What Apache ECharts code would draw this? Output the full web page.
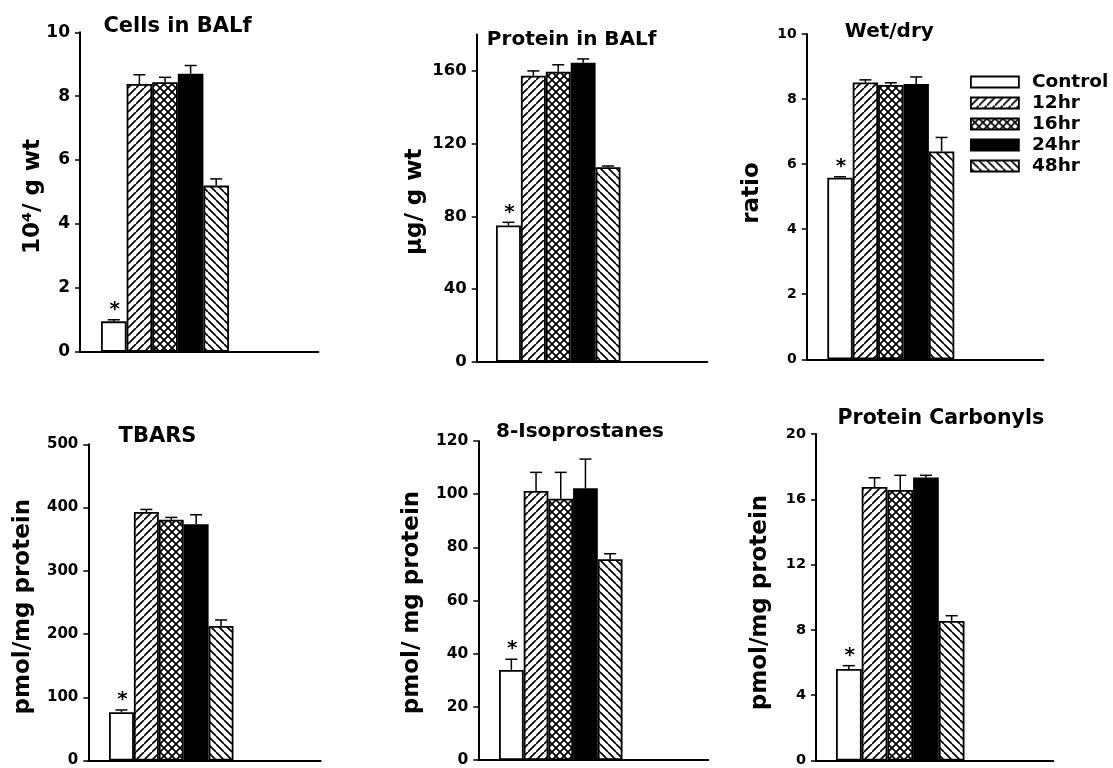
<!DOCTYPE html>
<html><head><meta charset="utf-8">
<script src="https://cdn.jsdelivr.net/npm/echarts@6/dist/echarts.min.js"></script>
<style>html,body{margin:0;padding:0;background:#fff}#c{width:1113px;height:768px}</style>
</head><body><div id="c"></div>
<script>
// ---- data ----
const GROUPS = ['Control', '12hr', '16hr', '24hr', '48hr'];
const STARS = ['*', '', '', '', ''];

const CELLS = [0.95, 8.38, 8.44, 8.70, 5.20];
const CELLS_SEM = [0.05, 0.29, 0.15, 0.26, 0.21];
const CELLS_TICKS = [0, 2, 4, 6, 8, 10];

const PROTEIN = [75.0, 157.4, 159.6, 164.5, 107.0];
const PROTEIN_SEM = [1.7, 2.6, 3.8, 2.1, 0.7];
const PROTEIN_TICKS = [0, 40, 80, 120, 160];

const WETDRY = [5.58, 8.51, 8.43, 8.46, 6.39];
const WETDRY_SEM = [0.03, 0.08, 0.07, 0.22, 0.43];
const WETDRY_TICKS = [0, 2, 4, 6, 8, 10];

const TBARS = [76.3, 393.0, 380.8, 373.4, 212.7];
const TBARS_SEM = [3.6, 4.0, 3.6, 15.2, 9.5];
const TBARS_TICKS = [0, 100, 200, 300, 400, 500];

const ISOP = [33.9, 101.2, 98.3, 102.2, 75.5];
const ISOP_SEM = [4.0, 7.0, 9.9, 11.0, 2.1];
const ISOP_TICKS = [0, 20, 40, 60, 80, 100, 120];

const CARB = [5.61, 16.75, 16.57, 17.34, 8.55];
const CARB_SEM = [0.20, 0.57, 0.90, 0.13, 0.32];
const CARB_TICKS = [0, 4, 8, 12, 16, 20];

// ---- layout ----
const PANELS = [
  {title: 'Cells in BALf', yName: '10\u2074/ g wt', values: CELLS, sem: CELLS_SEM, ticks: CELLS_TICKS, max: 10,
   grid: {left: 80, top: 32.3, width: 238.3, height: 319.4}, barW: 25.6, off: 21, tickFont: 17,
   titleFont: 21, titlePos: [177.5, 26.7], namePos: [33, 196.5]},
  {title: 'Protein in BALf', yName: '\u03bcg/ g wt', values: PROTEIN, sem: PROTEIN_SEM, ticks: PROTEIN_TICKS, max: 180,
   grid: {left: 476.7, top: 34.6, width: 230.6, height: 327.1}, barW: 24.9, off: 19.3, tickFont: 16.5,
   titleFont: 20, titlePos: [571.7, 40], namePos: [415, 201.7]},
  {title: 'Wet/dry', yName: 'ratio', values: WETDRY, sem: WETDRY_SEM, ticks: WETDRY_TICKS, max: 10,
   grid: {left: 806.7, top: 34, width: 236.6, height: 325.3}, barW: 25.4, off: 20.6, tickFont: 14,
   titleFont: 20, titlePos: [889.3, 31.7], namePos: [752.5, 193]},
  {title: 'TBARS', yName: 'pmol/mg protein', values: TBARS, sem: TBARS_SEM, ticks: TBARS_TICKS, max: 500,
   grid: {left: 88.3, top: 444.3, width: 232.4, height: 317.4}, barW: 24.9, off: 20.7, tickFont: 15,
   titleFont: 21, titlePos: [157.5, 436.7], namePos: [23, 606.7]},
  {title: '8-Isoprostanes', yName: 'pmol/ mg protein', values: ISOP, sem: ISOP_SEM, ticks: ISOP_TICKS, max: 120,
   grid: {left: 478.3, top: 441, width: 230, height: 322.3}, barW: 24.7, off: 20.7, tickFont: 15.5,
   titleFont: 20, titlePos: [580, 431.7], namePos: [412, 602.5]},
  {title: 'Protein Carbonyls', yName: 'pmol/mg protein', values: CARB, sem: CARB_SEM, ticks: CARB_TICKS, max: 20,
   grid: {left: 816, top: 434, width: 237.3, height: 329.3}, barW: 25.7, off: 20, tickFont: 14.5,
   titleFont: 20.5, titlePos: [940.8, 419], namePos: [760, 602.5]}
];

// ---- fills ----
function hatch(kind) {
  const s = 8;
  const c = document.createElement('canvas');
  c.width = s; c.height = s;
  const g = c.getContext('2d');
  g.fillStyle = '#fff'; g.fillRect(0, 0, s, s);
  g.strokeStyle = '#000'; g.lineWidth = 1.7;
  const fwd = () => {
    g.beginPath();
    g.moveTo(0, s); g.lineTo(s, 0);
    g.moveTo(-s, s); g.lineTo(0, 0);
    g.moveTo(s, 2 * s); g.lineTo(2 * s, s);
    g.stroke();
  };
  const back = () => {
    g.beginPath();
    g.moveTo(0, 0); g.lineTo(s, s);
    g.moveTo(s, 0); g.lineTo(2 * s, s);
    g.moveTo(-s, 0); g.lineTo(0, s);
    g.stroke();
  };
  if (kind === 'fwd' || kind === 'cross') fwd();
  if (kind === 'back' || kind === 'cross') back();
  return {image: c, repeat: 'repeat'};
}
const FILLS = ['#ffffff', hatch('fwd'), hatch('cross'), '#000000', hatch('back')];
const FONT = 'DejaVu Sans';

const option = {
  animation: false,
  backgroundColor: '#fff',
  grid: [], xAxis: [], yAxis: [], series: [], graphic: [],
  legend: {
    orient: 'vertical', left: 970, top: 71.5, padding: 0,
    itemWidth: 48, itemHeight: 11, itemGap: 0, icon: 'rect',
    data: GROUPS, selectedMode: false,
    itemStyle: {borderColor: '#000', borderWidth: 1.8},
    textStyle: {fontFamily: FONT, fontWeight: 'bold', fontSize: 18.5, color: '#000', lineHeight: 21, padding: [0, 0, 0, 8]}
  }
};

PANELS.forEach((p, k) => {
  option.grid.push(Object.assign({containLabel: false}, p.grid));
  const c = p.off + 2.5 * p.barW;
  option.xAxis.push({
    type: 'value', gridIndex: k, min: -c, max: p.grid.width - c,
    axisLine: {onZero: false, lineStyle: {color: '#000', width: 2}},
    axisTick: {show: false}, axisLabel: {show: false}, splitLine: {show: false}
  });
  option.yAxis.push({
    type: 'value', gridIndex: k, min: 0, max: p.max, interval: p.ticks[1] - p.ticks[0],
    axisLine: {show: true, onZero: false, lineStyle: {color: '#000', width: 2}},
    axisTick: {show: true, length: 5, customValues: p.ticks, lineStyle: {color: '#000', width: 1.5}},
    axisLabel: {customValues: p.ticks, color: '#000', fontFamily: FONT, fontWeight: 'bold', fontSize: p.tickFont, margin: 10},
    splitLine: {show: false}
  });
  GROUPS.forEach((name, i) => {
    option.series.push({
      type: 'bar', name: name, xAxisIndex: k, yAxisIndex: k,
      data: [[0, p.values[i]]], barWidth: p.barW, barGap: '0%',
      itemStyle: {color: FILLS[i], borderColor: '#000', borderWidth: 1.8},
      emphasis: {disabled: true}, silent: true, z: 2
    });
  });
  option.series.push({
    type: 'custom', xAxisIndex: k, yAxisIndex: k, silent: true, z: 5,
    data: p.values.map((v, i) => [i, v, p.sem[i]]),
    renderItem: (params, api) => {
      const i = api.value(0), v = api.value(1), e = api.value(2);
      const base = api.coord([0, v]);
      const top = api.coord([0, v + e]);
      const x = base[0] + (i - 2) * p.barW;
      const cap = 12;
      const children = [
        {type: 'line', shape: {x1: x, y1: base[1], x2: x, y2: top[1]}, style: {stroke: '#000', lineWidth: 1.5}},
        {type: 'line', shape: {x1: x - cap / 2, y1: top[1], x2: x + cap / 2, y2: top[1]}, style: {stroke: '#000', lineWidth: 1.5}}
      ];
      if (STARS[i]) {
        children.push({type: 'text', x: x + 1, y: top[1] - 10,
          style: {text: STARS[i], fontFamily: FONT, fontWeight: 'bold', fontSize: 20, fill: '#000', align: 'center', verticalAlign: 'middle'}});
      }
      return {type: 'group', children: children};
    }
  });
  option.graphic.push({
    type: 'text', x: p.titlePos[0], y: p.titlePos[1], silent: true,
    style: {text: p.title, fontFamily: FONT, fontWeight: 'bold', fontSize: p.titleFont, fill: '#000', align: 'center', verticalAlign: 'middle'}
  });
  option.graphic.push({
    type: 'text', x: p.namePos[0], y: p.namePos[1], rotation: Math.PI / 2, silent: true,
    style: {text: p.yName, fontFamily: FONT, fontWeight: 'bold', fontSize: 23, fill: '#000', align: 'center', verticalAlign: 'middle'}
  });
});

const chart = echarts.init(document.getElementById('c'), null, {renderer: 'canvas'});
chart.setOption(option);
</script>
</body></html>
